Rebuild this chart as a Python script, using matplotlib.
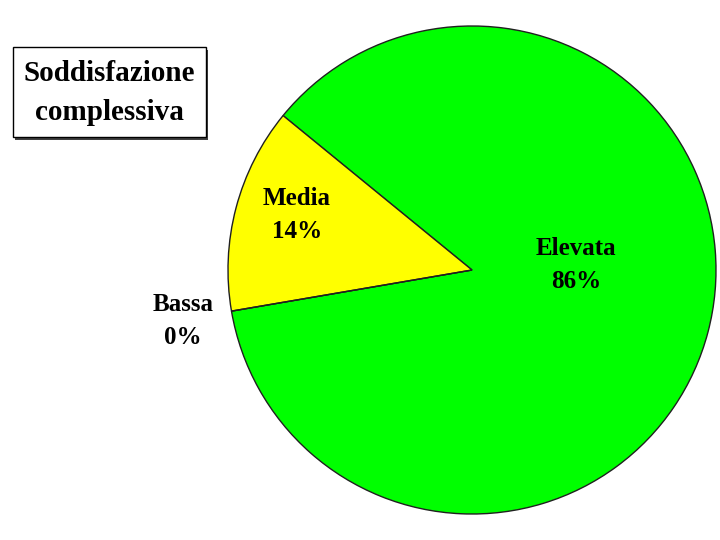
import matplotlib
matplotlib.use("Agg")
import matplotlib.pyplot as plt
from matplotlib.patches import Rectangle

# dati
categorie = ["Elevata", "Media", "Bassa"]
quote = [86.4, 13.6, 0.0]
colori = ["#00ff00", "#ffff00", "#0000ff"]
titolo = "Soddisfazione\ncomplessiva"

# posizioni etichette (pixel, origine in alto a sinistra)
pos_etichette = [(576, 265), (297, 215), (183, 321)]

plt.rcParams["font.family"] = ["Liberation Serif", "DejaVu Serif"]

fig = plt.figure(figsize=(7.2, 5.4), dpi=100)
ax = fig.add_axes([0, 0, 1, 1])

H = 540
ax.pie(quote, colors=colori, startangle=189.7, center=(472, H - 270), radius=244,
       wedgeprops=dict(edgecolor="#202020", linewidth=1.0), frame=True)
ax.set_xlim(0, 720)
ax.set_ylim(0, 540)
ax.axis("off")

totale = sum(quote)
for nome, q, (x, y) in zip(categorie, quote, pos_etichette):
    ax.text(x, H - y, "%s\n%.0f%%" % (nome, 100 * q / totale), ha="center", va="center",
            fontsize=18, fontweight="bold", linespacing=1.55, color="black")

# riquadro titolo con ombra
ax.add_patch(Rectangle((15, H - 140), 193, 90, facecolor="#404040", edgecolor="none", zorder=3))
ax.add_patch(Rectangle((13, H - 137), 193, 90, facecolor="white", edgecolor="black",
                       linewidth=1.0, zorder=4))
ax.text(109, H - 93, titolo, ha="center", va="center", fontsize=21, fontweight="bold",
        linespacing=1.6, zorder=5)

fig.savefig("out.png", dpi=100)
